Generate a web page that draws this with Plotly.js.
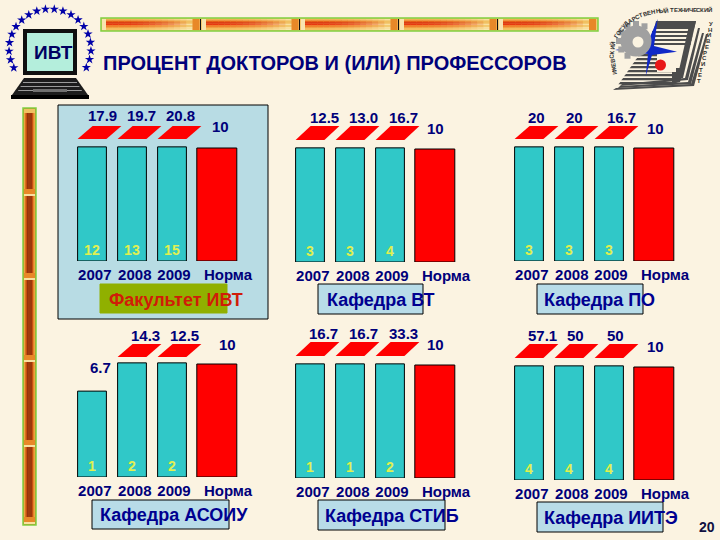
<!DOCTYPE html>
<html><head><meta charset="utf-8">
<script src="https://cdn.plot.ly/plotly-3.0.1.min.js"></script>
<style>html,body{margin:0;padding:0;background:#fbf3e1}</style></head>
<body><div id="chart" style="width:720px;height:540px"></div>
<script>
// ---------- chart data ----------
const tickLabels = ["2007","2008","2009","Норма"];
const titleText = "ПРОЦЕНТ ДОКТОРОВ И (ИЛИ) ПРОФЕССОРОВ";
const panelNames = ["Факультет ИВТ","Кафедра ВТ","Кафедра ПО","Кафедра АСОИУ","Кафедра СТИБ","Кафедра ИИТЭ"];
const percentIVT  = ["17.9","19.7","20.8","10"];
const percentVT   = ["12.5","13.0","16.7","10"];
const percentPO   = ["20","20","16.7","10"];
const percentASOU = ["6.7","14.3","12.5","10"];
const percentSTIB = ["16.7","16.7","33.3","10"];
const percentIITE = ["57.1","50","50","10"];
const countIVT  = ["12","13","15",""];
const countVT   = ["3","3","4",""];
const countPO   = ["3","3","3",""];
const countASOU = ["1","2","2",""];
const countSTIB = ["1","1","2",""];
const countIITE = ["4","4","4",""];
// drawn bar heights (the picture cuts tall bars just above the norm)
const heightIVT  = [10.1,10.1,10.1,10];
const heightVT   = [10.1,10.1,10.1,10];
const heightPO   = [10.1,10.1,10.1,10];
const heightASOU = [7.6,10.1,10.1,10];
const heightSTIB = [10.1,10.1,10.1,10];
const heightIITE = [10.1,10.1,10.1,10];

// ---------- layout of the six panels (pixels) ----------
const W=720,H=540,PX_X=40,PX_Y=11.3;
const BG='#fbf3e1';
const px=x=>x/W, py=y=>1-y/H;
const panels=[
 {l:58, b:261,pct:percentIVT, cnt:countIVT, h:heightIVT, lab:[[102,116],[141,116],[180,116],[220,127]],par:[126,139],box:[100,284,227,313],boxC:"#90b000",name:[176,300],nameC:"#d01c08"},
 {l:276,b:262,pct:percentVT,  cnt:countVT,  h:heightVT,  lab:[[324,117],[363,117],[403,117],[436,128]],par:[126,140],box:[318,284,423,314],boxC:"#b8dce8",name:[380,300],nameC:"#000090"},
 {l:495,b:261,pct:percentPO,  cnt:countPO,  h:heightPO,  lab:[[536,117],[574,117],[621,117],[655,128]],par:[126,139],box:[537,284,643,314],boxC:"#b8dce8",name:[599,300],nameC:"#000090"},
 {l:58, b:477,pct:percentASOU,cnt:countASOU,h:heightASOU,lab:[[100,367],[145,335],[185,335],[227,344]],par:[344,357],box:[92,500,229,529],boxC:"#b8dce8",name:[174,515],nameC:"#000090"},
 {l:276,b:478,pct:percentSTIB,cnt:countSTIB,h:heightSTIB,lab:[[323,333],[363,333],[403,333],[436,344]],par:[342,356],box:[318,500,445,530],boxC:"#b8dce8",name:[392,516],nameC:"#000090"},
 {l:495,b:480,pct:percentIITE,cnt:countIITE,h:heightIITE,lab:[[542,335],[575,335],[615,335],[655,346]],par:[344,358],box:[537,502,663,532],boxC:"#b8dce8",name:[611,518],nameC:"#000090"}
];
const barX=[0,1,2,3.12], barW=[0.72,0.72,0.72,1.0];
const tickX=[0.07,1.07,2.05,3.4];
const RX0=-0.85,RX1=4.4,PANEL_PX=(RX1-RX0)*PX_X;
const FONT='"Liberation Sans",Arial,sans-serif';
const NAVY='#00007a';

const traces=[],shapes=[],annotations=[];
const layout={width:W,height:H,margin:{l:0,r:0,t:0,b:0},paper_bgcolor:BG,plot_bgcolor:'rgba(0,0,0,0)',showlegend:false,
  font:{family:FONT},bargap:0,
  xaxis:{domain:[0,1],range:[0,W],visible:false,fixedrange:true},
  yaxis:{domain:[0,1],range:[H,0],visible:false,fixedrange:true}};

function rect(x0,y0,x1,y1,fill,line,lw){shapes.push({type:'rect',xref:'paper',yref:'paper',x0:px(x0),x1:px(x1),y0:py(y0),y1:py(y1),fillcolor:fill,layer:'below',line:{color:line||fill,width:line?(lw||1):0}});}
function poly(pts,fill){shapes.push({type:'path',xref:'paper',yref:'paper',layer:'below',fillcolor:fill,line:{width:0},
  path:'M '+pts.map(p=>px(p[0])+' '+py(p[1])).join(' L ')+' Z'});}
function text(t,x,y,size,color,bold,angle){annotations.push({xref:'paper',yref:'paper',x:px(x),y:py(y),text:bold?'<b>'+t+'</b>':t,showarrow:false,xanchor:'center',yanchor:'middle',font:{family:FONT,size:size,color:color},textangle:angle||0,borderpad:0,borderwidth:0});}

// ---------- decoration: header and side ornaments ----------
function mix(a,b,t){const h=s=>[1,3,5].map(i=>parseInt(s.substr(i,2),16));const A=h(a),B=h(b);return 'rgb('+A.map((v,i)=>Math.round(v+(B[i]-v)*t)).join(',')+')';}
const stripes=['#f0b050','#e86018','#d82808','#e83810','#f07020','#f0a040','#f5c060'];
const paleEnd=['#f8e0a0','#f0c060','#f0c060','#f8e0a0','#f0c868','#f8e0a0','#f8e8b0'];
rect(101,18,598,31,'#f5c870','#80d040',1.5);
const marks=[102,200.5,299.5,398.5,497.5,597];
for(let s=0;s<marks.length-1;s++){
  const a=marks[s]+(s?1.5:0),b=marks[s+1];
  rect(a,19,a+4,30,'#f8e4b0');
  const n=14,start=a+4,end=b-8,st=(end-start)/n;
  for(let r=0;r<7;r++)for(let k=0;k<n;k++){
    const t=Math.pow(k/(n-1),2.5);
    rect(start+k*st,19+r*11/7,start+(k+1)*st+.3,19+(r+1)*11/7,mix(stripes[r],paleEnd[r],t));
  }
  rect(b-8,19,b-1,30,'#e88828');
  if(s<marks.length-2)rect(b-.5,19,b+.5,30,'#101010');
}
// side ornament
rect(23,108,36,525,'#d87018','#80d040',1.5);
const vStripes=['#f0a040','#c85010','#8a2c08','#a03810','#8a2c08','#c85010','#f0a040'];
const vMarks=[113,196,280,362,447,524];
for(let s=0;s<vMarks.length-1;s++){
  for(let r=0;r<7;r++)rect(24+r*11/7,vMarks[s],24+(r+1)*11/7,vMarks[s+1]-7,vStripes[r]);
  rect(24,vMarks[s+1]-7,35,vMarks[s+1]-2,'#e88828');
  rect(24,vMarks[s+1]-2,35,vMarks[s+1],'#f8e0a0');
}
rect(24,109,35,113,'#f0c060');

// ---------- decoration: laptop logo ----------
rect(23,29,77,75,'#101010');
rect(27,33,73,71,'#b4eedc');
poly([[24,78],[76,78],[88,95],[12,95]],'#1c1c1c');
for(const y of [82,86,90])poly([[23-(y-82)*.6,y],[77+(y-82)*.6,y],[77+(y-82)*.6,y+1],[23-(y-82)*.6,y+1]],'#9a9a9a');
rect(33,89,67,92,'#707070');
rect(11,95,89,99,'#000');
text('ИВТ',53,52,19,'#000060',true);
const starAng=[];for(let a=-208;a<=28;a+=12.4)starAng.push(a);
traces.push({type:'scatter',mode:'markers',xaxis:'x',yaxis:'y',hoverinfo:'skip',
  x:starAng.map(a=>50+41*Math.cos(a*Math.PI/180)),y:starAng.map(a=>49+40*Math.sin(a*Math.PI/180)),
  marker:{symbol:'star',size:7,color:'#0000a8',line:{width:0}}});

// ---------- decoration: university logo ----------
traces.push({type:'scatter',mode:'markers',xaxis:'x',yaxis:'y',hoverinfo:'skip',x:[636],y:[41],marker:{symbol:'circle',size:31,color:'#a0a0a0',line:{width:0}}});
const gearAng=[150,180,210,240,270,300,120];
traces.push({type:'scatter',mode:'markers',xaxis:'x',yaxis:'y',hoverinfo:'skip',
  x:gearAng.map(a=>636+17*Math.cos(a*Math.PI/180)),y:gearAng.map(a=>41+17*Math.sin(a*Math.PI/180)),
  marker:{symbol:'square',size:6,color:'#a0a0a0',line:{width:0}}});
traces.push({type:'scatter',mode:'markers',xaxis:'x',yaxis:'y',hoverinfo:'skip',x:[638],y:[42],marker:{symbol:'circle',size:11,color:BG,line:{width:0}}});
const DK='#4c4c4c';
poly([[656,21],[696,21],[694,29],[654,29]],DK);
for(const y of [31,35,39,43])poly([[652,y],[693-(y-31)*.2,y],[693-(y-31)*.2,y+2],[652,y+2]],DK);
poly([[696,21],[690,21],[677,79],[683,78]],DK);
for(const y of [54,58,62,66,70,74,78,82])poly([[640-(y-54)*.7,y],[672,y],[672,y+2.2],[638-(y-54)*.7,y+2.2]],DK);
poly([[672,68],[684,68],[680,82],[672,84]],DK);
poly([[698,28],[700,28],[688,80],[620,86],[622,84],[685,78]],DK);
poly([[702,33],[704,33],[691,84],[618,88],[620,86],[688,82]],DK);
poly([[706,34],[708,34],[694,86],[613,90],[616,88],[691,84]],DK);
rect(657,54,676,72,BG);
poly([[657.7,19],[654,46],[677,51.7],[652,55],[645.7,76],[648,54],[615,50],[647,44]],'#1028c8');
traces.push({type:'scatter',mode:'markers',xaxis:'x',yaxis:'y',hoverinfo:'skip',x:[660.5],y:[65],marker:{symbol:'circle',size:11,color:'#e81818',line:{width:0}}});
function alongPath(str,pts,size,upright){
  const seg=[];let tot=0;for(let i=1;i<pts.length;i++){const d=Math.hypot(pts[i][0]-pts[i-1][0],pts[i][1]-pts[i-1][1]);seg.push(d);tot+=d;}
  [...str].forEach((c,i)=>{let d=tot*(i+.5)/str.length,j=0;while(j<seg.length-1&&d>seg[j]){d-=seg[j];j++;}
    const t=d/seg[j],x=pts[j][0]+(pts[j+1][0]-pts[j][0])*t,y=pts[j][1]+(pts[j+1][1]-pts[j][1])*t;
    const ang=upright?0:Math.atan2(pts[j+1][1]-pts[j][1],pts[j+1][0]-pts[j][0])*180/Math.PI;
    if(c!==' ')text(c,x,y,6,'#303030',true,ang);});
}
alongPath('ИЖЕВСКИЙ ГОСУДАРСТВЕННЫЙ',[[615,75],[612,58],[613,43],[619,32],[627,23],[637,17],[647,13],[668,10]],6);
alongPath('ТЕХНИЧЕСКИЙ',[[670,10],[712,10]],6);
alongPath('УНИВЕРСИТЕТ',[[712,21],[708,42],[698,84]],6,true);

// ---------- text: title and page number ----------
text(titleText,334.5,63,20,NAVY,true);
text('20',707,527,14,'#101040',true);

// ---------- panels ----------
rect(58,105,268,319,'#b8dce4','#000000',1);
panels.forEach((p,i)=>{
  const n=i+2, xk='x'+n, yk='y'+n, top=p.b-156;
  layout['xaxis'+n]={domain:[px(p.l),px(p.l+PANEL_PX)],range:[RX0,RX1],anchor:yk,fixedrange:true,showgrid:false,zeroline:false,showline:false,ticks:'',
    tickmode:'array',tickvals:tickX,ticktext:tickLabels,ticklen:0,ticklabelstandoff:3,tickangle:0,tickfont:{family:FONT,size:15,color:NAVY,weight:700}};
  layout['yaxis'+n]={domain:[py(p.b),py(top)],range:[0,156/PX_Y],anchor:xk,visible:false,fixedrange:true};
  traces.push({type:'bar',xaxis:xk,yaxis:yk,x:barX,y:p.h,width:barW,hoverinfo:'skip',cliponaxis:false,
    marker:{color:['#30c8c8','#30c8c8','#30c8c8','#ff0000'],line:{color:'#000000',width:1}},
    text:p.cnt,textposition:'inside',insidetextanchor:'start',textangle:0,constraintext:'none',
    textfont:{family:FONT,size:14,color:'#e0f050',weight:700}});
  // break marks on top of the bars cut at the norm
  p.h.slice(0,3).forEach((v,k)=>{ if(v<=10) return;
    const yB=(p.b-p.par[1])/PX_Y, yT=(p.b-p.par[0])/PX_Y, hw=barW[k]/2, sk=0.375, c=barX[k];
    traces.push({type:'scatter',mode:'lines',xaxis:xk,yaxis:yk,hoverinfo:'skip',fill:'toself',fillcolor:'#ff0000',line:{width:0},
      x:[c-hw,c+hw,c+hw+sk,c-hw+sk,c-hw],y:[yB,yB,yT,yT,yB]});
  });
  p.pct.forEach((t,k)=>text(t,p.lab[k][0],p.lab[k][1],15,NAVY,true));
  rect(p.box[0],p.box[1],p.box[2],p.box[3],p.boxC,i==0?p.boxC:'#000000',1);
  text(panelNames[i],p.name[0],p.name[1],18,p.nameC,true);
});
layout.shapes=shapes;layout.annotations=annotations;
Plotly.newPlot('chart',traces,layout,{displayModeBar:false,staticPlot:true});
</script></body></html>
